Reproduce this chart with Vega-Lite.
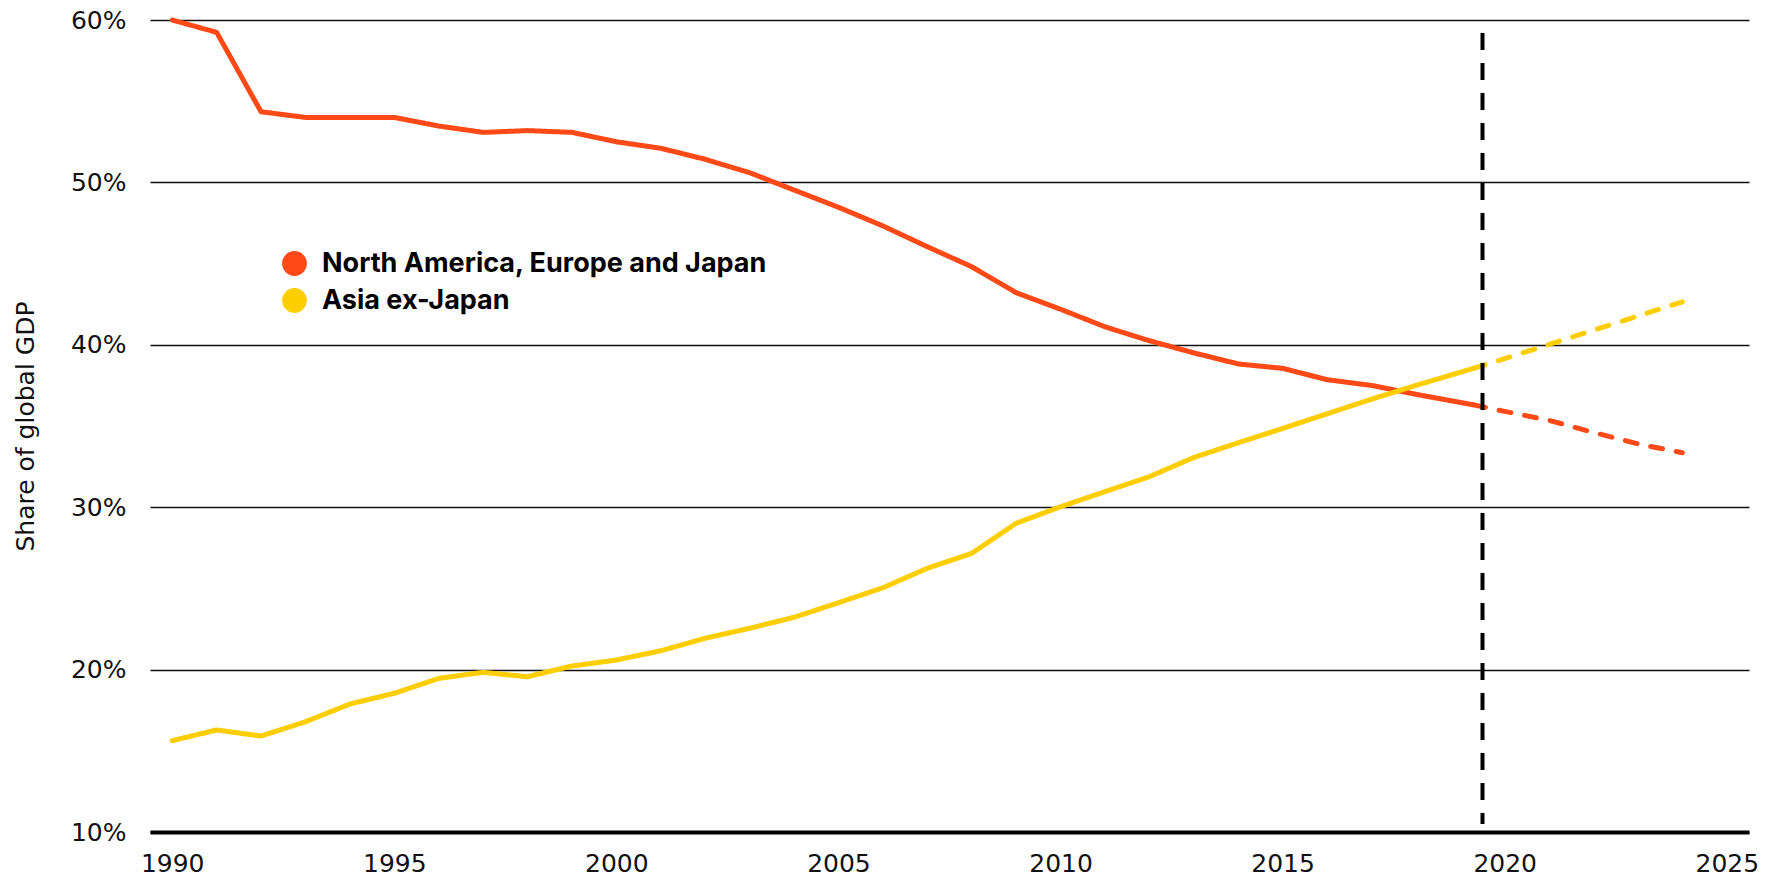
{
  "$schema": "https://vega.github.io/schema/vega-lite/v6.json",
  "width": 1599,
  "height": 812,
  "autosize": {"type": "none"},
  "padding": {"left": 150, "top": 20, "right": 26, "bottom": 49},
  "background": "white",
  "config": {
    "view": {"stroke": null},
    "font": "DejaVu Sans",
    "axis": {"labelFont": "DejaVu Sans", "titleFont": "DejaVu Sans", "labelColor": "#111", "titleColor": "#111", "labelFontWeight": "normal", "titleFontWeight": "normal"}
  },
  "layer": [
    {
      "data": {"values": [
        {"year": 1990, "value": 60.0, "series": "North America, Europe and Japan", "kind": "Actual"},
        {"year": 1991, "value": 59.24, "series": "North America, Europe and Japan", "kind": "Actual"},
        {"year": 1992, "value": 54.35, "series": "North America, Europe and Japan", "kind": "Actual"},
        {"year": 1993, "value": 54.0, "series": "North America, Europe and Japan", "kind": "Actual"},
        {"year": 1994, "value": 54.0, "series": "North America, Europe and Japan", "kind": "Actual"},
        {"year": 1995, "value": 54.0, "series": "North America, Europe and Japan", "kind": "Actual"},
        {"year": 1996, "value": 53.47, "series": "North America, Europe and Japan", "kind": "Actual"},
        {"year": 1997, "value": 53.08, "series": "North America, Europe and Japan", "kind": "Actual"},
        {"year": 1998, "value": 53.19, "series": "North America, Europe and Japan", "kind": "Actual"},
        {"year": 1999, "value": 53.08, "series": "North America, Europe and Japan", "kind": "Actual"},
        {"year": 2000, "value": 52.5, "series": "North America, Europe and Japan", "kind": "Actual"},
        {"year": 2001, "value": 52.1, "series": "North America, Europe and Japan", "kind": "Actual"},
        {"year": 2002, "value": 51.42, "series": "North America, Europe and Japan", "kind": "Actual"},
        {"year": 2003, "value": 50.6, "series": "North America, Europe and Japan", "kind": "Actual"},
        {"year": 2004, "value": 49.53, "series": "North America, Europe and Japan", "kind": "Actual"},
        {"year": 2005, "value": 48.47, "series": "North America, Europe and Japan", "kind": "Actual"},
        {"year": 2006, "value": 47.32, "series": "North America, Europe and Japan", "kind": "Actual"},
        {"year": 2007, "value": 46.04, "series": "North America, Europe and Japan", "kind": "Actual"},
        {"year": 2008, "value": 44.81, "series": "North America, Europe and Japan", "kind": "Actual"},
        {"year": 2009, "value": 43.21, "series": "North America, Europe and Japan", "kind": "Actual"},
        {"year": 2010, "value": 42.19, "series": "North America, Europe and Japan", "kind": "Actual"},
        {"year": 2011, "value": 41.11, "series": "North America, Europe and Japan", "kind": "Actual"},
        {"year": 2012, "value": 40.25, "series": "North America, Europe and Japan", "kind": "Actual"},
        {"year": 2013, "value": 39.5, "series": "North America, Europe and Japan", "kind": "Actual"},
        {"year": 2014, "value": 38.82, "series": "North America, Europe and Japan", "kind": "Actual"},
        {"year": 2015, "value": 38.55, "series": "North America, Europe and Japan", "kind": "Actual"},
        {"year": 2016, "value": 37.85, "series": "North America, Europe and Japan", "kind": "Actual"},
        {"year": 2017, "value": 37.5, "series": "North America, Europe and Japan", "kind": "Actual"},
        {"year": 2018, "value": 36.95, "series": "North America, Europe and Japan", "kind": "Actual"},
        {"year": 2019.3, "value": 36.3, "series": "North America, Europe and Japan", "kind": "Actual"},
        {"year": 2019.3, "value": 36.3, "series": "North America, Europe and Japan", "kind": "Forecast"},
        {"year": 2020, "value": 35.9, "series": "North America, Europe and Japan", "kind": "Forecast"},
        {"year": 2021, "value": 35.35, "series": "North America, Europe and Japan", "kind": "Forecast"},
        {"year": 2022, "value": 34.6, "series": "North America, Europe and Japan", "kind": "Forecast"},
        {"year": 2023, "value": 33.9, "series": "North America, Europe and Japan", "kind": "Forecast"},
        {"year": 2024, "value": 33.35, "series": "North America, Europe and Japan", "kind": "Forecast"},
        {"year": 1990, "value": 15.62, "series": "Asia ex-Japan", "kind": "Actual"},
        {"year": 1991, "value": 16.28, "series": "Asia ex-Japan", "kind": "Actual"},
        {"year": 1992, "value": 15.91, "series": "Asia ex-Japan", "kind": "Actual"},
        {"year": 1993, "value": 16.79, "series": "Asia ex-Japan", "kind": "Actual"},
        {"year": 1994, "value": 17.88, "series": "Asia ex-Japan", "kind": "Actual"},
        {"year": 1995, "value": 18.54, "series": "Asia ex-Japan", "kind": "Actual"},
        {"year": 1996, "value": 19.46, "series": "Asia ex-Japan", "kind": "Actual"},
        {"year": 1997, "value": 19.83, "series": "Asia ex-Japan", "kind": "Actual"},
        {"year": 1998, "value": 19.56, "series": "Asia ex-Japan", "kind": "Actual"},
        {"year": 1999, "value": 20.22, "series": "Asia ex-Japan", "kind": "Actual"},
        {"year": 2000, "value": 20.59, "series": "Asia ex-Japan", "kind": "Actual"},
        {"year": 2001, "value": 21.16, "series": "Asia ex-Japan", "kind": "Actual"},
        {"year": 2002, "value": 21.93, "series": "Asia ex-Japan", "kind": "Actual"},
        {"year": 2003, "value": 22.54, "series": "Asia ex-Japan", "kind": "Actual"},
        {"year": 2004, "value": 23.22, "series": "Asia ex-Japan", "kind": "Actual"},
        {"year": 2005, "value": 24.12, "series": "Asia ex-Japan", "kind": "Actual"},
        {"year": 2006, "value": 25.04, "series": "Asia ex-Japan", "kind": "Actual"},
        {"year": 2007, "value": 26.24, "series": "Asia ex-Japan", "kind": "Actual"},
        {"year": 2008, "value": 27.16, "series": "Asia ex-Japan", "kind": "Actual"},
        {"year": 2009, "value": 29.01, "series": "Asia ex-Japan", "kind": "Actual"},
        {"year": 2010, "value": 30.03, "series": "Asia ex-Japan", "kind": "Actual"},
        {"year": 2011, "value": 30.96, "series": "Asia ex-Japan", "kind": "Actual"},
        {"year": 2012, "value": 31.88, "series": "Asia ex-Japan", "kind": "Actual"},
        {"year": 2013, "value": 33.06, "series": "Asia ex-Japan", "kind": "Actual"},
        {"year": 2014, "value": 33.97, "series": "Asia ex-Japan", "kind": "Actual"},
        {"year": 2015, "value": 34.85, "series": "Asia ex-Japan", "kind": "Actual"},
        {"year": 2016, "value": 35.75, "series": "Asia ex-Japan", "kind": "Actual"},
        {"year": 2017, "value": 36.65, "series": "Asia ex-Japan", "kind": "Actual"},
        {"year": 2018, "value": 37.5, "series": "Asia ex-Japan", "kind": "Actual"},
        {"year": 2019.3, "value": 38.55, "series": "Asia ex-Japan", "kind": "Actual"},
        {"year": 2019.3, "value": 38.55, "series": "Asia ex-Japan", "kind": "Forecast"},
        {"year": 2020, "value": 39.15, "series": "Asia ex-Japan", "kind": "Forecast"},
        {"year": 2021, "value": 40.02, "series": "Asia ex-Japan", "kind": "Forecast"},
        {"year": 2022, "value": 40.9, "series": "Asia ex-Japan", "kind": "Forecast"},
        {"year": 2023, "value": 41.77, "series": "Asia ex-Japan", "kind": "Forecast"},
        {"year": 2024, "value": 42.65, "series": "Asia ex-Japan", "kind": "Forecast"}
      ]},
      "mark": {"type": "line", "strokeWidth": 5, "strokeCap": "round", "strokeJoin": "round"},
      "encoding": {
        "x": {
          "field": "year", "type": "quantitative",
          "scale": {"domain": [1989.5, 2025.5], "nice": false, "zero": false},
          "axis": {
            "title": null, "values": [1990, 1995, 2000, 2005, 2010, 2015, 2020, 2025],
            "format": "d", "ticks": false, "grid": false,
            "domain": true, "domainColor": "#000", "domainWidth": 4,
            "labelFontSize": 25, "labelPadding": 19, "labelFlush": false
          }
        },
        "y": {
          "field": "value", "type": "quantitative",
          "scale": {"domain": [10, 60], "nice": false, "zero": false},
          "axis": {
            "title": "Share of global GDP",
            "values": [10, 20, 30, 40, 50, 60],
            "labelExpr": "datum.value + '%'",
            "ticks": false, "domain": false,
            "grid": true, "gridColor": "#111", "gridWidth": 1.5, "gridOpacity": 1,
            "labelFontSize": 25, "labelPadding": 24, "labelAlign": "right", "labelBaseline": "middle",
            "titleFontSize": 25,
            "titleX": -125, "titleY": 406, "titleAngle": -90, "titleAlign": "center", "titleBaseline": "middle"
          }
        },
        "color": {
          "field": "series", "type": "nominal",
          "scale": {"domain": ["North America, Europe and Japan", "Asia ex-Japan"], "range": ["#FF4A17", "#FFCE00"]},
          "legend": {
            "title": null, "orient": "none", "legendX": 131, "legendY": 230,
            "padding": 0, "symbolType": "circle", "symbolSize": 616, "symbolStrokeWidth": 0,
            "symbolOpacity": 1,
            "labelFont": "Inter", "labelFontSize": 27, "labelFontWeight": "bold", "labelColor": "#000",
            "labelOffset": 14, "rowPadding": 9, "labelLimit": 800,
            "encode": {"symbols": {"update": {"fill": {"scale": "color", "field": "value"}, "fillOpacity": {"value": 1}, "strokeWidth": {"value": 0}, "strokeDash": {"value": [1, 0]}}}}
          }
        },
        "strokeDash": {
          "field": "kind", "type": "nominal",
          "scale": {"domain": ["Actual", "Forecast"], "range": [[1, 0], [12, 14]]},
          "legend": null
        }
      }
    },
    {
      "data": {"values": [{"x": 2019.5, "y": 59.2, "y2": 10.5}]},
      "mark": {"type": "rule", "color": "#000", "strokeWidth": 4, "strokeDash": [17, 13]},
      "encoding": {
        "x": {"field": "x", "type": "quantitative"},
        "y": {"field": "y", "type": "quantitative"},
        "y2": {"field": "y2"}
      }
    }
  ]
}
